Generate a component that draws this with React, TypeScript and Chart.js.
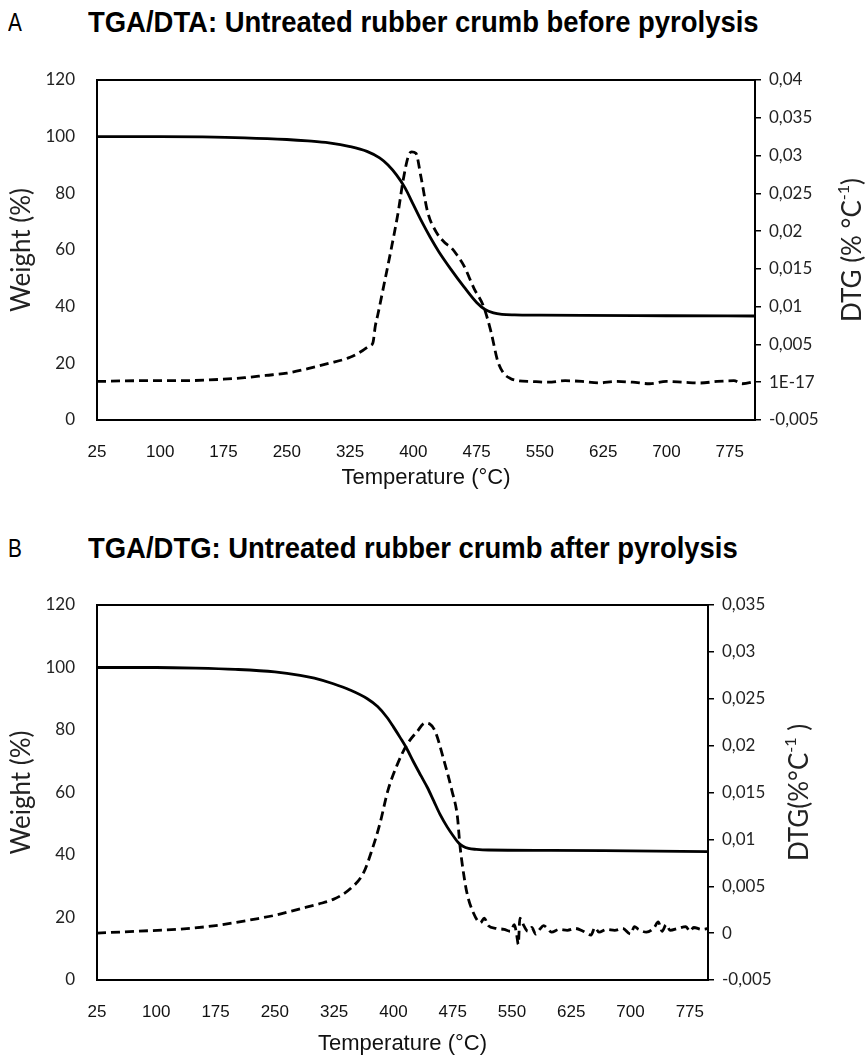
import React, { useEffect, useRef } from "react";
import { Chart, registerables } from "chart.js";
Chart.register(...registerables);

// ---------- data ----------
const xTicks = [25, 100, 175, 250, 325, 400, 475, 550, 625, 700, 775];

const aDtgTickValues = [-0.005, 0, 0.005, 0.01, 0.015, 0.02, 0.025, 0.03, 0.035, 0.04];
const aDtgTickLabels = ["-0,005", "1E-17", "0,005", "0,01", "0,015", "0,02", "0,025", "0,03", "0,035", "0,04"];
const bDtgTickValues = [-0.005, 0, 0.005, 0.01, 0.015, 0.02, 0.025, 0.03, 0.035];
const bDtgTickLabels = ["-0,005", "0", "0,005", "0,01", "0,015", "0,02", "0,025", "0,03", "0,035"];

const aTgaTemp = [25, 100, 150, 200, 250, 275, 300, 325, 345, 360, 370, 380, 390, 400, 410, 420, 430, 445, 460, 475, 485, 495, 505, 520, 550, 600, 700, 805];
const aTgaWeight = [100, 100, 99.9, 99.6, 99.0, 98.5, 97.8, 96.5, 94.8, 92.5, 90.0, 86.5, 82.0, 76.0, 70.0, 64.5, 59.5, 53.0, 47.0, 41.5, 39.0, 37.8, 37.3, 37.1, 37.0, 36.9, 36.8, 36.7];

const aDtgTemp = [25, 75, 125, 175, 200, 225, 250, 275, 300, 325, 340, 348, 352, 355, 358, 365, 373, 382, 388, 394, 398, 403, 409, 417, 427, 437, 445, 452, 460, 472, 483, 492, 500, 507, 515, 525, 540, 560, 580, 600, 620, 640, 660, 680, 700, 720, 740, 760, 780, 790, 805];
const aDtgValue = [0.0001, 0.0002, 0.0002, 0.0004, 0.0006, 0.0009, 0.0012, 0.0018, 0.0025, 0.0033, 0.0042, 0.0048, 0.0052, 0.0075, 0.0090, 0.0128, 0.0172, 0.0225, 0.0268, 0.0299, 0.0305, 0.0303, 0.0272, 0.0225, 0.0199, 0.0185, 0.0178, 0.0168, 0.0154, 0.0124, 0.0101, 0.0067, 0.0028, 0.0012, 0.0005, 0.0002, 0.0001, 0.0000, 0.0002, 0.0001, -0.0001, 0.0001, 0.0000, -0.0002, 0.0001, 0.0000, -0.0001, 0.0001, 0.0002, -0.0002, 0.0001];

const bTgaTemp = [25, 100, 150, 200, 250, 282, 300, 324, 345, 367, 380, 392, 400, 409, 417, 425, 435, 443, 451, 459, 468, 476, 482, 488, 495, 505, 520, 600, 700, 798];
const bTgaWeight = [100, 100, 99.8, 99.4, 98.6, 97.5, 96.6, 94.8, 92.8, 90.0, 87.5, 84.0, 81.0, 77.4, 74.0, 70.0, 65.3, 61.6, 57.3, 53.0, 49.0, 46.0, 44.0, 42.8, 42.1, 41.8, 41.6, 41.5, 41.3, 41.1];

const bDtgTemp = [25, 75, 125, 175, 225, 250, 282, 305, 324, 345, 362, 373, 383, 393, 405, 417, 430, 440, 446, 453, 463, 474, 481, 484, 488, 493, 501, 510, 515, 520, 530, 540, 548, 553, 556, 558, 560, 565, 570, 575, 580, 585, 590, 595, 600, 610, 620, 630, 640, 650, 655, 660, 670, 680, 690, 700, 705, 710, 720, 730, 735, 740, 745, 750, 760, 770, 775, 780, 790, 798];
const bDtgValue = [0.0000, 0.0002, 0.0004, 0.0008, 0.0015, 0.0019, 0.0026, 0.0031, 0.0036, 0.0047, 0.0064, 0.0089, 0.0117, 0.0152, 0.0180, 0.0201, 0.0215, 0.0224, 0.0223, 0.0215, 0.0187, 0.0152, 0.0124, 0.0095, 0.0068, 0.0043, 0.0022, 0.0011, 0.0016, 0.0008, 0.0005, 0.0004, 0.0002, 0.0009, -0.0002, -0.0012, 0.0016, 0.0008, 0.0002, 0.0006, -0.0001, 0.0004, 0.0008, 0.0005, 0.0001, 0.0004, 0.0003, 0.0005, 0.0002, -0.0002, 0.0006, 0.0001, 0.0004, 0.0003, 0.0005, -0.0001, 0.0007, 0.0004, 0.0001, 0.0006, 0.0012, 0.0002, 0.0009, 0.0003, 0.0005, 0.0007, 0.0002, 0.0006, 0.0004, 0.0005];

// ---------- styles ----------
const SANS = "Lato, 'Noto Sans', sans-serif";
const NARROW = "'Liberation Sans Narrow', 'Arial Narrow', 'Liberation Sans', sans-serif";
const PAGE_W = 867;

const zip = (xs: number[], ys: number[]) => xs.map((x, i) => ({ x, y: ys[i] }));

const framePlugin = {
  id: "frame",
  afterDraw(chart: any) {
    const { ctx, chartArea } = chart;
    ctx.save();
    ctx.strokeStyle = "#000";
    ctx.lineWidth = 2;
    ctx.strokeRect(chartArea.left, chartArea.top, chartArea.right - chartArea.left, chartArea.bottom - chartArea.top);
    ctx.restore();
  },
};

const rightTitlePlugin = {
  id: "rightTitle",
  afterDraw(chart: any, _args: any, opts: any) {
    const { ctx, chartArea } = chart;
    const parts: { t: string; sup?: boolean }[] = opts.parts || [];
    const mainFont = `26px ${SANS}`;
    const supFont = `16px ${SANS}`;
    ctx.save();
    ctx.translate(opts.x, (chartArea.top + chartArea.bottom) / 2);
    ctx.rotate(-Math.PI / 2);
    ctx.fillStyle = "#222";
    ctx.textBaseline = "middle";
    ctx.textAlign = "left";
    let total = 0;
    for (const p of parts) {
      ctx.font = p.sup ? supFont : mainFont;
      total += ctx.measureText(p.t).width;
    }
    let cx = -total / 2;
    for (const p of parts) {
      ctx.font = p.sup ? supFont : mainFont;
      ctx.fillText(p.t, cx, p.sup ? -9 : 0);
      cx += ctx.measureText(p.t).width;
    }
    ctx.restore();
  },
};

type PanelProps = {
  top: number;
  height: number;
  plotTop: number;
  plotBottom: number;
  plotLeft: number;
  plotRight: number;
  xMax: number;
  xTitlePad: number;
  tgaT: number[];
  tgaW: number[];
  dtgT: number[];
  dtgV: number[];
  dtgTicks: number[];
  dtgLabels: string[];
  titleParts: { t: string; sup?: boolean }[];
  titleX: number;
};

function Panel(p: PanelProps) {
  const ref = useRef<HTMLCanvasElement | null>(null);
  useEffect(() => {
    if (!ref.current) return;
    const chart = new Chart(ref.current, {
      type: "line",
      data: {
        datasets: [
          {
            data: zip(p.tgaT, p.tgaW),
            yAxisID: "y",
            borderColor: "#000",
            borderWidth: 2.8,
            pointRadius: 0,
            cubicInterpolationMode: "monotone",
            fill: false,
          },
          {
            data: zip(p.dtgT, p.dtgV),
            yAxisID: "y1",
            borderColor: "#000",
            borderWidth: 2.8,
            borderDash: [9, 5],
            pointRadius: 0,
            cubicInterpolationMode: "monotone",
            fill: false,
          },
        ],
      },
      options: {
        animation: false,
        responsive: false,
        maintainAspectRatio: false,
        devicePixelRatio: 1,
        layout: { padding: { top: p.plotTop - p.top, left: 0, right: 0, bottom: 0 } },
        plugins: {
          legend: { display: false },
          tooltip: { enabled: false },
          title: { display: false },
          rightTitle: { x: p.titleX, parts: p.titleParts },
        } as any,
        scales: {
          x: {
            type: "linear",
            min: 25,
            max: p.xMax,
            afterBuildTicks: (s: any) => {
              s.ticks = xTicks.map((v) => ({ value: v }));
            },
            afterFit: (s: any) => {
              s.height = p.top + p.height - p.plotBottom;
            },
            grid: { display: false },
            border: { display: false },
            ticks: { color: "#111", font: { family: NARROW, size: 17 }, padding: 14, maxRotation: 0, autoSkip: false },
            title: { display: true, text: "Temperature (°C)", color: "#111", font: { family: NARROW, size: 22 }, padding: { top: 0, bottom: p.xTitlePad } },
          },
          y: {
            position: "left",
            min: 0,
            max: 120,
            ticks: { stepSize: 20, color: "#222", font: { family: SANS, size: 17 }, padding: 14 },
            afterFit: (s: any) => {
              s.width = p.plotLeft;
            },
            grid: { display: false },
            border: { display: false },
            title: { display: true, text: "Weight (%)", color: "#222", font: { family: SANS, size: 26 }, padding: { top: 6, bottom: 0 } },
          },
          y1: {
            position: "right",
            min: p.dtgTicks[0],
            max: p.dtgTicks[p.dtgTicks.length - 1],
            afterBuildTicks: (s: any) => {
              s.ticks = p.dtgTicks.map((v) => ({ value: v }));
            },
            afterFit: (s: any) => {
              s.width = PAGE_W - p.plotRight;
            },
            ticks: {
              color: "#222",
              font: { family: SANS, size: 17 },
              padding: 8,
              callback: (_v: any, i: number) => p.dtgLabels[i],
            },
            grid: { display: true, drawOnChartArea: false, drawTicks: true, tickLength: 6, color: "#000", lineWidth: 1.5 },
            border: { display: false },
          },
        },
      } as any,
      plugins: [framePlugin, rightTitlePlugin],
    });
    return () => chart.destroy();
  }, []);
  return (
    <canvas
      ref={ref}
      width={PAGE_W}
      height={p.height}
      style={{ position: "absolute", left: 0, top: p.top, width: PAGE_W, height: p.height }}
    />
  );
}

function Heading({ letter, text, top }: { letter: string; text: string; top: number }) {
  return (
    <div style={{ position: "absolute", left: 0, top, width: PAGE_W, height: 34, color: "#000" }}>
      <span
        style={{
          position: "absolute",
          left: 8,
          top: 0,
          fontFamily: NARROW,
          fontSize: 26,
          lineHeight: "30px",
          transform: "scaleX(0.8)",
          transformOrigin: "left center",
        }}
      >
        {letter}
      </span>
      <span
        style={{
          position: "absolute",
          left: 88,
          top: 0,
          fontFamily: NARROW,
          fontWeight: "bold",
          fontSize: 30,
          lineHeight: "30px",
          whiteSpace: "nowrap",
          transform: "scaleX(0.915)",
          transformOrigin: "left center",
        }}
      >
        {text}
      </span>
    </div>
  );
}

export default function App() {
  return (
    <div style={{ position: "absolute", left: 0, top: 0, width: PAGE_W, height: 1059, background: "#fff", overflow: "hidden" }}>
      <Heading letter="A" text="TGA/DTA: Untreated rubber crumb before pyrolysis" top={7} />
      <Panel
        top={40}
        height={460}
        plotTop={80}
        plotBottom={420}
        plotLeft={97}
        plotRight={755}
        xMax={805}
        xTitlePad={9}
        tgaT={aTgaTemp}
        tgaW={aTgaWeight}
        dtgT={aDtgTemp}
        dtgV={aDtgValue}
        dtgTicks={aDtgTickValues}
        dtgLabels={aDtgTickLabels}
        titleParts={[{ t: "DTG (% °C" }, { t: "-1", sup: true }, { t: ")" }]}
        titleX={853}
      />
      <Heading letter="B" text="TGA/DTG: Untreated rubber crumb after pyrolysis" top={533} />
      <Panel
        top={566}
        height={493}
        plotTop={605}
        plotBottom={980}
        plotLeft={97}
        plotRight={708}
        xMax={798}
        xTitlePad={2}
        tgaT={bTgaTemp}
        tgaW={bTgaWeight}
        dtgT={bDtgTemp}
        dtgV={bDtgValue}
        dtgTicks={bDtgTickValues}
        dtgLabels={bDtgTickLabels}
        titleParts={[{ t: "DTG(%°C" }, { t: "-1", sup: true }, { t: " )" }]}
        titleX={800}
      />
    </div>
  );
}
